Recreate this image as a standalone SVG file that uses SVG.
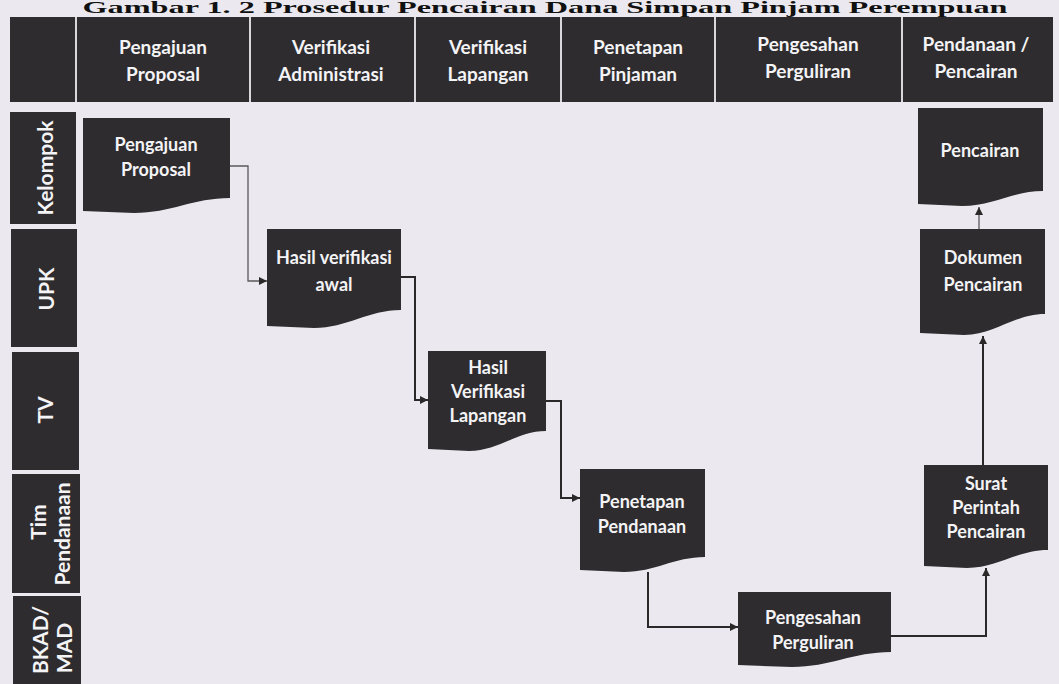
<svg xmlns="http://www.w3.org/2000/svg" width="1059" height="684" viewBox="0 0 1059 684">
<defs>
<style>
.bg{fill:#ebe9ef}
.dark{fill:#2e2c2f}
.div{stroke:#d9d7dc;stroke-width:2}
.t{font-family:Lato,"Liberation Sans",sans-serif;font-weight:bold;fill:#f4f3f5;text-anchor:middle}
.h{font-size:19px}
.n{font-size:18px}
.l{font-size:21px}
.title{font-family:"Liberation Serif",serif;font-weight:bold;font-size:17px;fill:#111;text-anchor:middle}
.c{fill:none;stroke:#2a2829;stroke-width:2}
.cf{fill:none;stroke:#5a585b;stroke-width:1.3}
</style>
<marker id="ah" viewBox="0 0 10 10" refX="10" refY="5" markerWidth="9" markerHeight="8" markerUnits="userSpaceOnUse" orient="auto">
<path d="M0,0 L10,5 L0,10 Z" fill="#2a2829"/>
</marker>
</defs>
<rect class="bg" x="0" y="0" width="1059" height="684"/>
<text class="title" x="545" y="13" textLength="925" lengthAdjust="spacingAndGlyphs">Gambar 1. 2 Prosedur Pencairan Dana Simpan Pinjam Perempuan</text>

<g id="header">
<rect class="dark" x="10" y="17" width="1043" height="85"/>
<line class="div" x1="76" y1="17" x2="76" y2="102"/>
<line class="div" x1="250" y1="17" x2="250" y2="102"/>
<line class="div" x1="415" y1="17" x2="415" y2="102"/>
<line class="div" x1="561" y1="17" x2="561" y2="102"/>
<line class="div" x1="715" y1="17" x2="715" y2="102"/>
<line class="div" x1="902" y1="17" x2="902" y2="102"/>
<text class="t h" x="163" y="54">Pengajuan</text>
<text class="t h" x="163" y="81">Proposal</text>
<text class="t h" x="331" y="54">Verifikasi</text>
<text class="t h" x="331" y="81">Administrasi</text>
<text class="t h" x="488" y="54">Verifikasi</text>
<text class="t h" x="488" y="81">Lapangan</text>
<text class="t h" x="638" y="54">Penetapan</text>
<text class="t h" x="638" y="81">Pinjaman</text>
<text class="t h" x="808" y="51">Pengesahan</text>
<text class="t h" x="808" y="78">Perguliran</text>
<text class="t h" x="976" y="51">Pendanaan /</text>
<text class="t h" x="976" y="78">Pencairan</text>
</g>

<g id="lane-kelompok">
<rect class="dark" x="10" y="112" width="66" height="112"/>
<text class="t l" x="53" y="168" transform="rotate(-90 53 168)">Kelompok</text>
</g>
<g id="lane-upk">
<rect class="dark" x="11" y="229" width="66" height="118"/>
<text class="t l" x="54" y="289" transform="rotate(-90 54 289)">UPK</text>
</g>
<g id="lane-tv">
<rect class="dark" x="12" y="352" width="67" height="118"/>
<text class="t l" x="53" y="410" transform="rotate(-90 53 410)">TV</text>
</g>
<g id="lane-tim">
<rect class="dark" x="12" y="474" width="68" height="119"/>
<text class="t l" x="46" y="522" transform="rotate(-90 46 522)">Tim</text>
<text class="t l" x="70" y="534" transform="rotate(-90 70 534)">Pendanaan</text>
</g>
<g id="lane-bkad">
<rect class="dark" x="13" y="596" width="68" height="88"/>
<text class="t l" x="48" y="640" transform="rotate(-90 48 640)">BKAD/</text>
<text class="t l" x="72" y="648" transform="rotate(-90 72 648)">MAD</text>
</g>

<g id="connectors">
<path class="cf" d="M230,166 H248 V281 H267" marker-end="url(#ah)"/>
<path class="c" d="M401,277 H415 V400 H428" marker-end="url(#ah)"/>
<path class="c" d="M546,401 H561 V498 H580" marker-end="url(#ah)"/>
<path class="c" d="M648,572 V627 H738" marker-end="url(#ah)"/>
<path class="c" d="M891,636 H986 V568" marker-end="url(#ah)"/>
<path class="c" d="M983,465 V336" marker-end="url(#ah)"/>
<path class="cf" d="M979,229 V207" marker-end="url(#ah)"/>
</g>

<g id="node-pengajuan">
<path class="dark" d="M83,118 H230 V198 C193,198 171,213 134,213 L83,211 Z"/>
<text class="t n" x="156" y="151">Pengajuan</text>
<text class="t n" x="156" y="176">Proposal</text>
</g>
<g id="node-hasil-awal">
<path class="dark" d="M267,229 H401 V310 C368,310 347,328 314,328 L267,326 Z"/>
<text class="t n" x="334" y="264">Hasil verifikasi</text>
<text class="t n" x="334" y="291">awal</text>
</g>
<g id="node-hasil-lapangan">
<path class="dark" d="M428,351 H546 V431 C517,431 499,451 469,451 L428,449 Z"/>
<text class="t n" x="488" y="374">Hasil</text>
<text class="t n" x="488" y="398">Verifikasi</text>
<text class="t n" x="488" y="422">Lapangan</text>
</g>
<g id="node-penetapan">
<path class="dark" d="M580,469 H705 V557 C674,557 655,572 624,572 L580,570 Z"/>
<text class="t n" x="642" y="508">Penetapan</text>
<text class="t n" x="642" y="533">Pendanaan</text>
</g>
<g id="node-pengesahan">
<path class="dark" d="M738,592 H891 V652 C853,652 830,667 792,667 L738,665 Z"/>
<text class="t n" x="813" y="624">Pengesahan</text>
<text class="t n" x="813" y="649">Perguliran</text>
</g>
<g id="node-surat">
<path class="dark" d="M924,465 H1048 V550 C1017,550 998,568 967,568 L924,566 Z"/>
<text class="t n" x="986" y="490">Surat</text>
<text class="t n" x="986" y="514">Perintah</text>
<text class="t n" x="986" y="538">Pencairan</text>
</g>
<g id="node-dokumen">
<path class="dark" d="M920,229 H1045 V314 C1014,314 995,335 964,335 L920,333 Z"/>
<text class="t n" x="983" y="264">Dokumen</text>
<text class="t n" x="983" y="291">Pencairan</text>
</g>
<g id="node-pencairan">
<path class="dark" d="M918,108 H1043 V191 C1012,191 993,206 962,206 L918,204 Z"/>
<text class="t n" x="980" y="157">Pencairan</text>
</g>
</svg>
